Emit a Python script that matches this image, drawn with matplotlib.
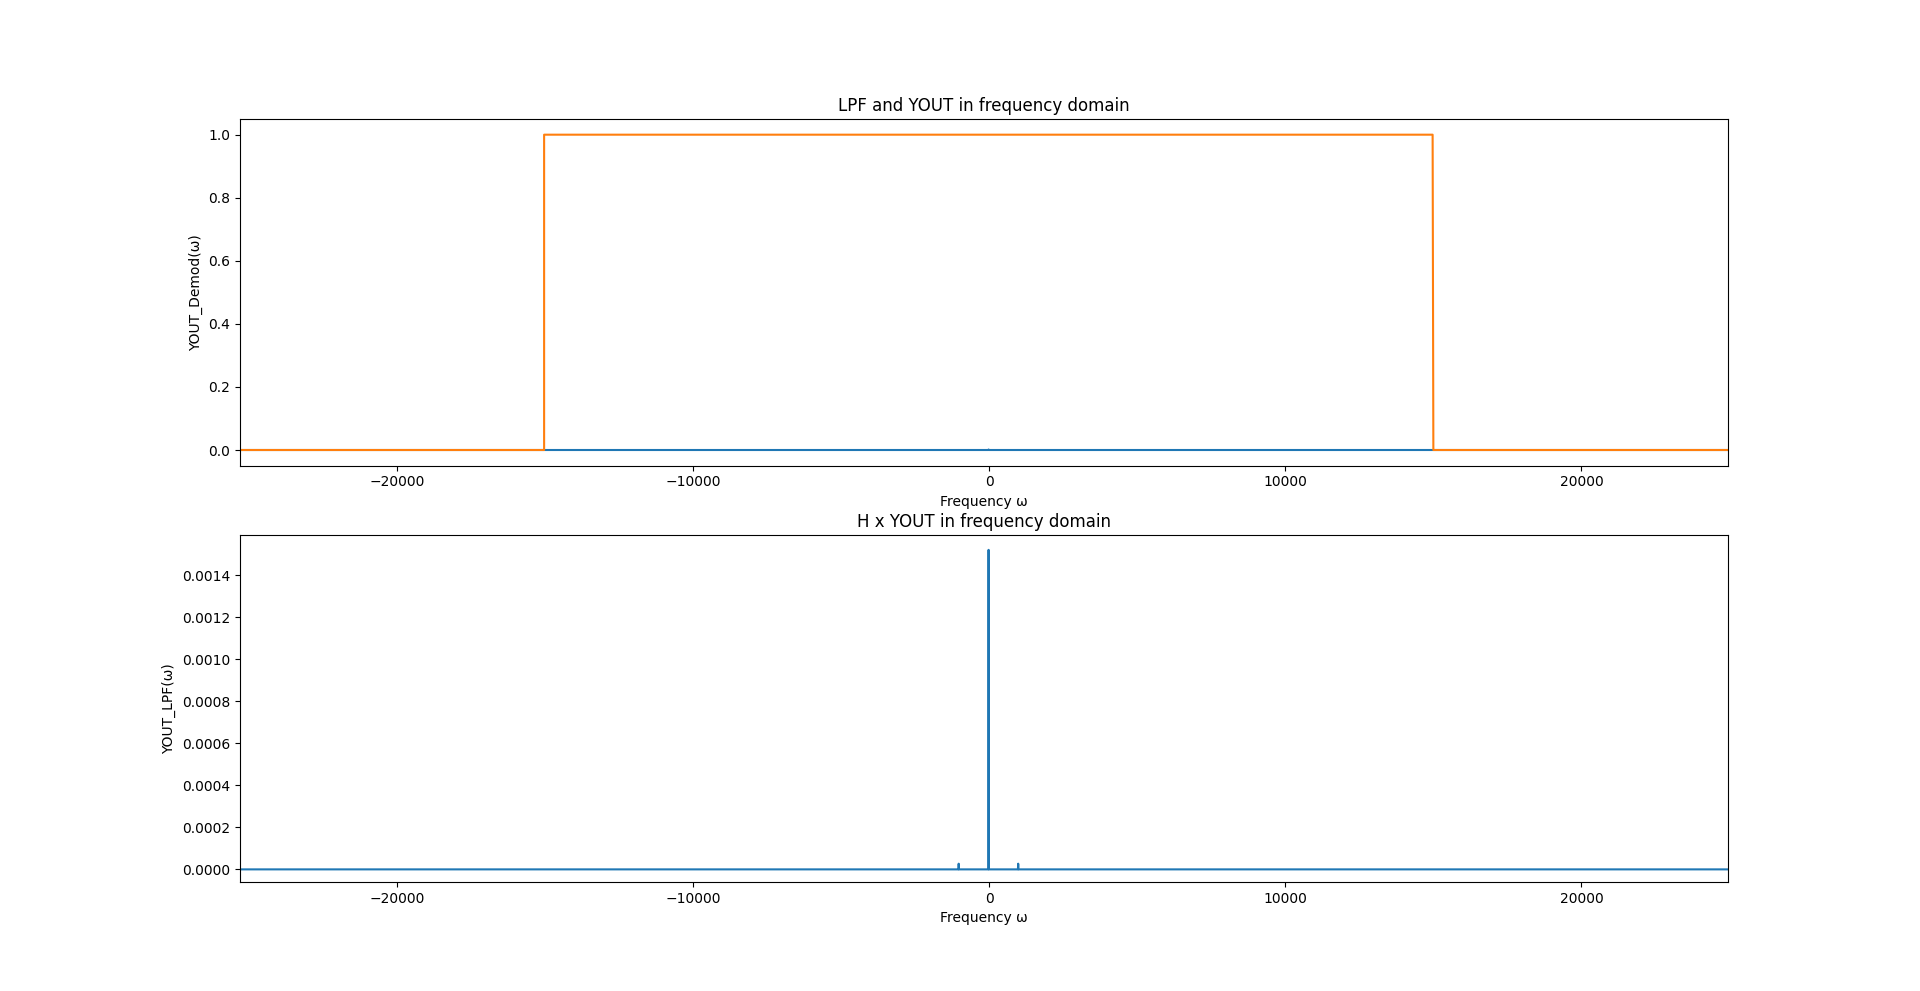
import matplotlib
matplotlib.use("Agg")
import matplotlib.pyplot as plt

# frequency axis samples (rad/s) and spectra
freq = [-25300, -1040, -1030, -1020, -30, -20, -10, 970, 980, 990, 24950]
yout = [0, 0, 2.7e-5, 0, 0, 1.52e-3, 0, 0, 2.7e-5, 0, 0]

# ideal low pass filter, cutoff about 15000
lpfFreq = [-25300, -15030, -15030, 14975, 15000, 24950]
lpfGain = [0, 0, 1, 1, 0, 0]

# spectrum after the filter
youtLpf = [0, 0, 2.7e-5, 0, 0, 1.52e-3, 0, 0, 2.7e-5, 0, 0]

fig = plt.figure(figsize=(19.2, 9.91), dpi=100)

plt.subplot(2, 1, 1)
plt.plot(freq, yout)
plt.plot(lpfFreq, lpfGain)
plt.xlim(-25300, 24950)
plt.title("LPF and YOUT in frequency domain")
plt.xlabel("Frequency ω")
plt.ylabel("YOUT_Demod(ω)")

plt.subplot(2, 1, 2)
plt.plot(freq, youtLpf)
plt.xlim(-25300, 24950)
plt.ylim(-6e-5, 0.00159)
plt.title("H x YOUT in frequency domain")
plt.xlabel("Frequency ω")
plt.ylabel("YOUT_LPF(ω)")

plt.savefig("out.png", dpi=100)
